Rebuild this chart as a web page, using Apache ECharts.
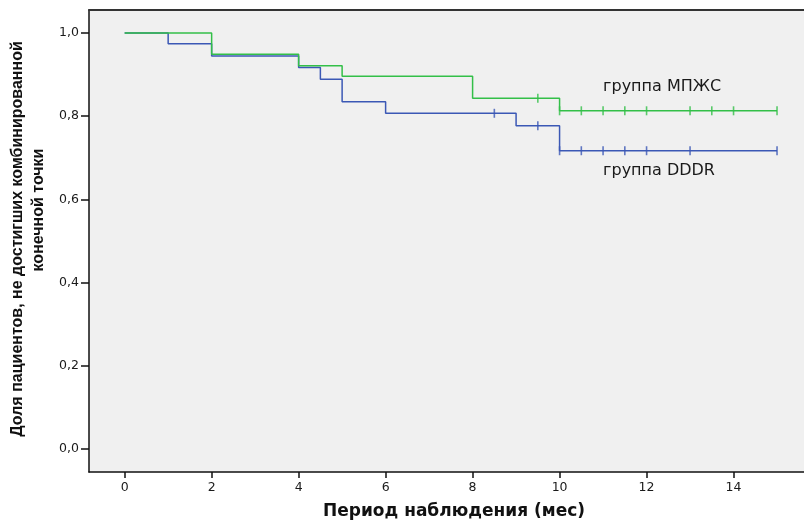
<!DOCTYPE html>
<html>
<head>
<meta charset="utf-8">
<script src="https://cdn.jsdelivr.net/npm/echarts@6/dist/echarts.min.js"></script>
<style>
html,body{margin:0;padding:0;background:#fff;}
#c{width:804px;height:522px;}
</style>
</head>
<body>
<div id="c"></div>
<script>
// ---- data ----
const xTicks = [0, 2, 4, 6, 8, 10, 12, 14];
const yTicks = [0, 0.2, 0.4, 0.6, 0.8, 1.0];

const groupNames = ['группа МПЖС', 'группа DDDR'];

// Kaplan-Meier steps: group МПЖС (green)
const mpzhsTimes = [0, 2, 4, 5, 8, 10, 15];
const mpzhsSurv  = [1.0, 0.949, 0.921, 0.896, 0.843, 0.813, 0.813];
// censored observations МПЖС
const mpzhsCensTimes = [9.5, 10, 10.5, 11, 11.5, 12, 13, 13.5, 14, 15];
const mpzhsCensSurv  = [0.843, 0.813, 0.813, 0.813, 0.813, 0.813, 0.813, 0.813, 0.813, 0.813];

// Kaplan-Meier steps: group DDDR (blue)
const dddrTimes = [0, 1, 2, 4, 4.5, 5, 6, 9, 10, 15];
const dddrSurv  = [1.0, 0.974, 0.945, 0.917, 0.889, 0.835, 0.807, 0.777, 0.717, 0.717];
// censored observations DDDR
const dddrCensTimes = [8.5, 9.5, 10, 10.5, 11, 11.5, 12, 13, 15];
const dddrCensSurv  = [0.807, 0.777, 0.717, 0.717, 0.717, 0.717, 0.717, 0.717, 0.717];

// label anchor positions (data space)
const labelTimes = [11, 11];
const labelSurv  = [0.870, 0.668];

const xTitle = 'Период наблюдения (мес)';
const yTitle1 = 'Доля пациентов, не достигших комбинированной';
const yTitle2 = 'конечной точки';

// ---- chart ----
const GREEN = '#33bf48';
const BLUE = '#3b58b5';
const zip = (a, b) => a.map((v, i) => [v, b[i]]);

const chart = echarts.init(document.getElementById('c'), null, {renderer: 'canvas'});

const hFont = '"DejaVu Sans", sans-serif';
const X_MIN = -0.82, X_MAX = 15.62;

const option = {
  animation: false,
  backgroundColor: '#ffffff',
  grid: {
    left: 89, top: 10, right: 0, bottom: 50,
    show: true, backgroundColor: '#f0f0f0', borderWidth: 0
  },
  xAxis: [{
    type: 'value', min: X_MIN, max: X_MAX,
    axisLine: {show: true, onZero: false, lineStyle: {color: '#111', width: 1.5}},
    axisTick: {show: true, length: 6, customValues: xTicks, lineStyle: {color: '#111', width: 1.5}},
    axisLabel: {customValues: xTicks, margin: 9, color: '#1a1a1a', fontSize: 12.5, fontFamily: hFont},
    splitLine: {show: false}
  }, {
    type: 'value', position: 'top', min: X_MIN, max: X_MAX,
    axisLine: {show: true, onZero: false, lineStyle: {color: '#333', width: 2}},
    axisTick: {show: false}, axisLabel: {show: false}, splitLine: {show: false}
  }],
  yAxis: {
    type: 'value', min: -0.0553, max: 1.0553,
    axisLine: {show: true, onZero: false, lineStyle: {color: '#111', width: 1.5}},
    axisTick: {show: true, length: 8, customValues: yTicks, lineStyle: {color: '#111', width: 1.5}},
    axisLabel: {
      customValues: yTicks, margin: 10, color: '#1a1a1a', fontSize: 12.5, fontFamily: hFont,
      formatter: v => v.toFixed(1).replace('.', ',')
    },
    splitLine: {show: false}
  },
  series: [
    {
      name: groupNames[1], type: 'line', step: 'end', showSymbol: false,
      data: zip(dddrTimes, dddrSurv),
      lineStyle: {color: BLUE, width: 1.5}, itemStyle: {color: BLUE}, z: 2
    },
    {
      name: groupNames[0], type: 'line', step: 'end', showSymbol: false,
      data: zip(mpzhsTimes, mpzhsSurv),
      lineStyle: {color: GREEN, width: 1.5}, itemStyle: {color: GREEN}, z: 3
    },
    {
      name: groupNames[1] + ' цензур.', type: 'scatter', symbol: 'rect', symbolSize: [1.6, 9],
      data: zip(dddrCensTimes, dddrCensSurv), itemStyle: {color: BLUE}, z: 4
    },
    {
      name: groupNames[0] + ' цензур.', type: 'scatter', symbol: 'rect', symbolSize: [1.6, 9],
      data: zip(mpzhsCensTimes, mpzhsCensSurv), itemStyle: {color: GREEN}, z: 5
    }
  ]
};
chart.setOption(option);

const p0 = chart.convertToPixel({gridIndex: 0}, [labelTimes[0], labelSurv[0]]);
const p1 = chart.convertToPixel({gridIndex: 0}, [labelTimes[1], labelSurv[1]]);

chart.setOption({
  graphic: [
    {type: 'text', x: p0[0], y: p0[1], style: {text: groupNames[0], font: '16px "DejaVu Sans", sans-serif', fill: '#1a1a1a', textAlign: 'left', textVerticalAlign: 'middle'}},
    {type: 'text', x: p1[0], y: p1[1], style: {text: groupNames[1], font: '16px "DejaVu Sans", sans-serif', fill: '#1a1a1a', textAlign: 'left', textVerticalAlign: 'middle'}},
    {type: 'text', x: 454, y: 512, style: {text: xTitle, font: 'bold 17px "DejaVu Sans", sans-serif', fill: '#111', textAlign: 'center', textVerticalAlign: 'middle'}},
    {type: 'text', x: 18, y: 239, rotation: Math.PI / 2, style: {text: yTitle1, font: 'bold 16px "Liberation Sans", Arial, sans-serif', fill: '#111', textAlign: 'center', textVerticalAlign: 'middle'}},
    {type: 'text', x: 39, y: 210, rotation: Math.PI / 2, style: {text: yTitle2, font: 'bold 16px "Liberation Sans", Arial, sans-serif', fill: '#111', textAlign: 'center', textVerticalAlign: 'middle'}}
  ]
});
</script>
</body>
</html>
